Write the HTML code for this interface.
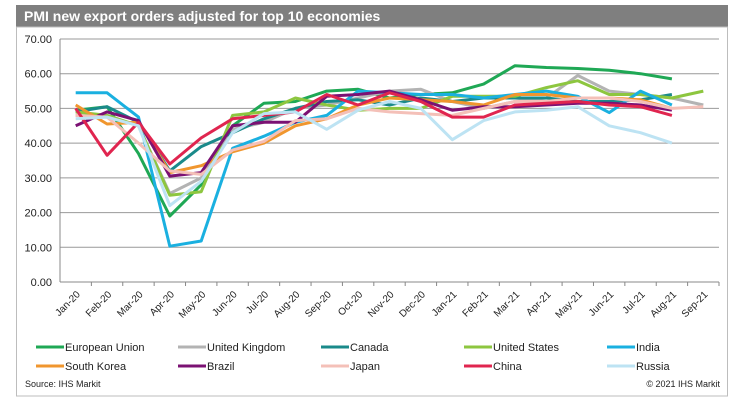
<!DOCTYPE html>
<html><head><meta charset="utf-8"><style>
body{margin:0;background:#fff;font-family:"Liberation Sans",Arial,sans-serif;}
</style></head><body>
<svg width="741" height="411" viewBox="0 0 741 411" xmlns="http://www.w3.org/2000/svg" font-family="Liberation Sans, Arial, sans-serif">
<rect x="16" y="5" width="712" height="22" fill="#7f7f7f"/>
<text x="24" y="21" fill="#fff" font-size="14" font-weight="bold">PMI new export orders adjusted for top 10 economies</text>
<rect x="16.5" y="27" width="711" height="369" fill="none" stroke="#bdbdbd"/>
<g id="grid"></g><g id="series"></g><g id="xlabels"></g><g id="legend"></g>
<text x="25" y="387" font-size="9" fill="#222">Source: IHS Markit</text>
<text x="720" y="387" font-size="9" fill="#222" text-anchor="end">© 2021 IHS Markit</text>
</svg>
<script>
const categories=["Jan-20","Feb-20","Mar-20","Apr-20","May-20","Jun-20","Jul-20","Aug-20","Sep-20","Oct-20","Nov-20","Dec-20","Jan-21","Feb-21","Mar-21","Apr-21","May-21","Jun-21","Jul-21","Aug-21","Sep-21"];
const yTicks=[0,10,20,30,40,50,60,70];
const seriesNames=["European Union","United Kingdom","Canada","United States","India","South Korea","Brazil","Japan","China","Russia"];
const seriesColors=["#1fa855","#b3b3b3","#1a8a8a","#8dc63f","#1ab0e0","#f0962e","#7b1173","#f4c0b8","#e0254f","#bde3f3"];
const euValues=[49.5,50.5,37,19,28,45,51.5,52,55,55.5,53,54,54.5,57,62.3,61.8,61.5,61,60,58.5];
const ukValues=[48,48,45,25.5,30,44,46,50,51,53,55,55.5,52,50,52,53,59.5,55,54,53,51];
const canadaValues=[49,50.5,46,32,39,43,47,50,52,52.5,51,53,52,53,53,53,52,52,52.5,54];
const usValues=[49,48,45,25,26,48,49,53,51,49.5,50,50,53.5,53.5,53.5,56,58,54,54,53,55];
const indiaValues=[54.5,54.5,47.5,10.3,11.8,38.5,42,46,48,55,54.5,54,54,53,54,55,53.5,48.8,55,51];
const koreaValues=[51,45.5,46,31.5,33.5,37.5,40,45,47,51,53,52.5,52,51,54,54,53,53,52.5,50];
const brazilValues=[45,49,46.5,30.5,31.5,45,46,46,53.5,54,55,52.5,49.5,50.5,50.5,51,51.5,51.5,51,49.5];
const japanValues=[48,47.5,40,32,31,38,40.5,46.5,47,50,49,48.5,48,50,52,52,53,53,52,50,50.5];
const chinaValues=[50,36.5,46,34,41.5,47,48,49,54,51,54.5,52,47.5,47.5,51,51.5,52,51,50.5,48];
const russiaValues=[47,47.5,45,22,29,43,48.5,49,44,49.5,52,50,41,46.5,49,49.5,50.5,45,43,40];
const allValues=[euValues,ukValues,canadaValues,usValues,indiaValues,koreaValues,brazilValues,japanValues,chinaValues,russiaValues];

const NS="http://www.w3.org/2000/svg";
const X0=60,X1=719,Y0=282,Y1=39;
const bw=(X1-X0)/categories.length;
function xPos(i){return X0+bw*(i+0.5);}
function yPos(v){return Y0-(v/70)*(Y0-Y1);}
function mk(t,a,p){const e=document.createElementNS(NS,t);for(const k in a)e.setAttribute(k,a[k]);p.appendChild(e);return e;}

const grid=document.getElementById('grid');
yTicks.forEach(v=>{
  const l=mk('line',{x1:X0,x2:X1,y1:yPos(v),y2:yPos(v),stroke:v===0?'#888':'#999','stroke-width':1},grid);
  
  
  const t=mk('text',{x:X0-8,y:yPos(v)+4,'font-size':11,'text-anchor':'end',fill:'#222'},grid);
  t.textContent=v.toFixed(2);
  
  
});
const ax=mk('line',{x1:X0,x2:X0,y1:Y1,y2:Y0,stroke:'#888'},grid);



const xl=document.getElementById('xlabels');
categories.forEach((c,i)=>{
  const tk=mk('line',{x1:X0+bw*(i+1),x2:X0+bw*(i+1),y1:Y0,y2:Y0+4,stroke:'#888'},xl);
  
  
  const x=xPos(i)+5,y=Y0+13;
  const t=mk('text',{x:x,y:y,'font-size':10,'text-anchor':'end',fill:'#222',transform:`rotate(-45 ${x} ${y})`},xl);
  t.textContent=c;
  
  
});

const sg=document.getElementById('series');
allValues.forEach((vals,s)=>{
  const pts=vals.map((v,i)=>xPos(i).toFixed(1)+','+yPos(v).toFixed(1)).join(' ');
  const p=mk('polyline',{points:pts,fill:'none',stroke:seriesColors[s],'stroke-width':3,'stroke-linejoin':'round'},sg);
  
  
});

const lg=document.getElementById('legend');
const lx=[36,178,321,464,607],ly=[347,366];
seriesNames.forEach((n,s)=>{
  const x=lx[s%5],y=ly[Math.floor(s/5)];
  const g=mk('g',{},lg);
  
  
  mk('line',{x1:x,x2:x+28,y1:y,y2:y,stroke:seriesColors[s],'stroke-width':3},g);
  const t=mk('text',{x:x+29,y:y+4,'font-size':11,fill:'#222'},g);
  t.textContent=n;
});
</script>
</body></html>
